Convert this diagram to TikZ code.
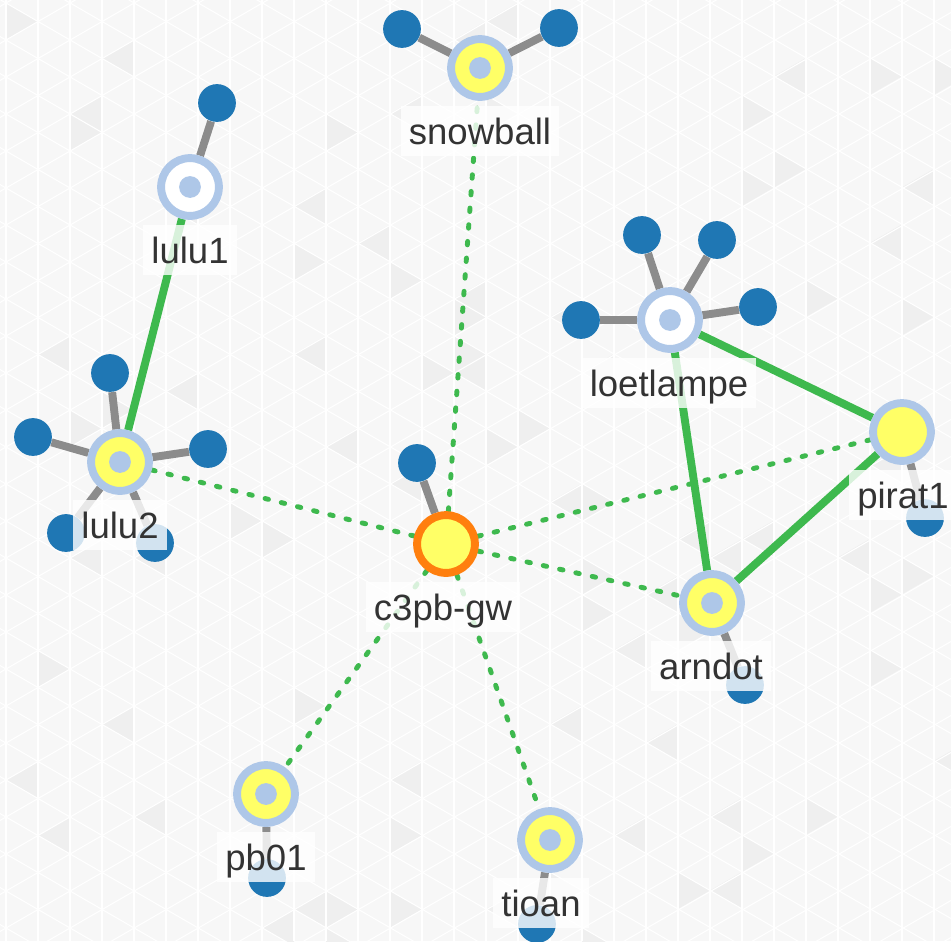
\documentclass[tikz,border=0pt]{standalone}
\usepackage{fontspec}
\usepackage{tikz}
\usetikzlibrary{positioning,calc}
\newfontfamily\labelfont{Liberation Sans}
\definecolor{ringblue}{RGB}{174,199,232}
\definecolor{nodeyellow}{RGB}{255,255,102}
\definecolor{clientblue}{RGB}{31,119,180}
\definecolor{linkgrey}{RGB}{140,140,140}
\definecolor{linkgreen}{RGB}{62,185,78}
\definecolor{gworange}{RGB}{255,127,14}
\definecolor{bggrey}{RGB}{247,247,247}
\definecolor{bgdark}{RGB}{239,239,239}
\pgfdeclarelayer{bg}
\pgfdeclarelayer{links}
\pgfsetlayers{bg,links,main}
\tikzstyle{mesh}=[circle,draw=ringblue,line width=4.5pt,fill=nodeyellow,minimum size=32.9pt,inner sep=0pt]
\tikzstyle{withdot}=[path picture={\fill[ringblue] (path picture bounding box.center) circle (6.2pt);}]
\tikzstyle{offline}=[mesh,withdot,fill=white]
\tikzstyle{gateway}=[mesh,draw=gworange]
\tikzstyle{client}=[circle,fill=clientblue,minimum size=21.5pt,inner sep=0pt]
\tikzstyle{meshlink}=[draw=linkgreen,line width=4.5pt]
\tikzstyle{vpnlink}=[draw=linkgreen,line width=2.8pt,line cap=round,dash pattern=on 2pt off 7.5pt]
\tikzstyle{clientlink}=[draw=linkgrey,line width=4.5pt]
\tikzstyle{lbl}=[fill=white,fill opacity=0.8,text opacity=1,text=black!80,font={\labelfont\fontsize{20.8}{21}\selectfont},inner xsep=4.5pt,inner ysep=7pt,text height=14.8pt,text depth=0pt,anchor=base]

\begin{document}
\begin{tikzpicture}[x=0.02cm,y=-0.02cm]
\useasboundingbox (0,0) rectangle (951,941);
\begin{pgfonlayer}{bg}
\fill[bggrey] (0,0) rectangle (951,941);
\begin{scope}
\clip (0,0) rectangle (951,941);
% a few darker triangles
\pgfmathsetseed{17}
\foreach \t in {1,...,90} {
	\pgfmathtruncatemacro\k{random(0,29)}
	\pgfmathtruncatemacro\n{random(0,26)}
	\pgfmathtruncatemacro\d{random(0,1)}
	\pgfmathsetmacro\xa{6+32*\k}
	\pgfmathsetmacro\ya{37*\n-34+mod(18.475*\k,37)}
	\ifnum\d=0
		\fill[bgdark] (\xa,\ya) -- (\xa,\ya+37) -- (\xa+32,\ya+18.475) -- cycle;
	\else
		\fill[bgdark] (\xa+32,\ya+18.475) -- (\xa+32,\ya+55.475) -- (\xa,\ya+37) -- cycle;
	\fi
}
\foreach \k in {0,...,29}
	\draw[white,line width=0.6pt] (6+32*\k,0) -- (6+32*\k,941);
\foreach \c in {-700,-663,...,1700} {
	\draw[white,line width=0.6pt] (6,\c) ++(-1100,-635) -- ++(2200,1270);
	\draw[white,line width=0.6pt] (6,\c) ++(-1100,635) -- ++(2200,-1270);
}
\end{scope}
\end{pgfonlayer}

% mesh nodes
\node [mesh,withdot] (snowball) at (480,68) {};
\node [offline] (lulu1) at (190,187) {};
\node [mesh,withdot] (lulu2) at (120,462) {};
\node [gateway] (gw) at (446,544) {};
\node [offline] (loetlampe) at (670,320) {};
\node [mesh] (pirat1) at (902,432) {};
\node [mesh,withdot] (arndot) at (712,603) {};
\node [mesh,withdot] (pb01) at (266,794) {};
\node [mesh,withdot] (tioan) at (550,840) {};

% clients
\node [client] (snowballc1) at (402,29) {};
\node [client] (snowballc2) at (559,28) {};
\node [client] (lulu1c1) at (217,103) {};
\node [client] (lulu2c1) at (110,373) {};
\node [client] (lulu2c2) at (33,437) {};
\node [client] (lulu2c3) at (208,449) {};
\node [client] (lulu2c4) at (66,533) {};
\node [client] (lulu2c5) at (155,543) {};
\node [client] (gwc1) at (417,463) {};
\node [client] (loetlampec1) at (581,320) {};
\node [client] (loetlampec2) at (642,235) {};
\node [client] (loetlampec3) at (717,240) {};
\node [client] (loetlampec4) at (758,307) {};
\node [client] (pirat1c1) at (925,518) {};
\node [client] (arndotc1) at (745,685) {};
\node [client] (pb01c1) at (267,878) {};
\node [client] (tioanc1) at (537,924) {};

\begin{pgfonlayer}{links}
\draw [clientlink] (snowball) -- (snowballc1);
\draw [clientlink] (snowball) -- (snowballc2);
\draw [clientlink] (lulu1) -- (lulu1c1);
\draw [clientlink] (lulu2) -- (lulu2c1);
\draw [clientlink] (lulu2) -- (lulu2c2);
\draw [clientlink] (lulu2) -- (lulu2c3);
\draw [clientlink] (lulu2) -- (lulu2c4);
\draw [clientlink] (lulu2) -- (lulu2c5);
\draw [clientlink] (gw) -- (gwc1);
\draw [clientlink] (loetlampe) -- (loetlampec1);
\draw [clientlink] (loetlampe) -- (loetlampec2);
\draw [clientlink] (loetlampe) -- (loetlampec3);
\draw [clientlink] (loetlampe) -- (loetlampec4);
\draw [clientlink] (pirat1) -- (pirat1c1);
\draw [clientlink] (arndot) -- (arndotc1);
\draw [clientlink] (pb01) -- (pb01c1);
\draw [clientlink] (tioan) -- (tioanc1);
\draw [meshlink] (lulu1) -- (lulu2);
\draw [meshlink] (loetlampe) -- (pirat1);
\draw [meshlink] (loetlampe) -- (arndot);
\draw [meshlink] (pirat1) -- (arndot);
\draw [vpnlink] (gw) -- (snowball);
\draw [vpnlink] (gw) -- (lulu2);
\draw [vpnlink] (gw) -- (pirat1);
\draw [vpnlink] (gw) -- (arndot);
\draw [vpnlink] (gw) -- (pb01);
\draw [vpnlink] (gw) -- (tioan);
\end{pgfonlayer}

% labels
\node [lbl] (snowballL) at (480,144) {snowball};
\node [lbl] (lulu1L) at (190,263) {lulu1};
\node [lbl] (lulu2L) at (120,538) {lulu2};
\node [lbl] (gwL) at (443,620) {c3pb-gw};
\node [lbl] (loetlampeL) at (669,396) {loetlampe};
\node [lbl] (pirat1L) at (903,508) {pirat1};
\node [lbl] (arndotL) at (711,679) {arndot};
\node [lbl] (pb01L) at (266,870) {pb01};
\node [lbl] (tioanL) at (541,916) {tioan};
\end{tikzpicture}
\end{document}
